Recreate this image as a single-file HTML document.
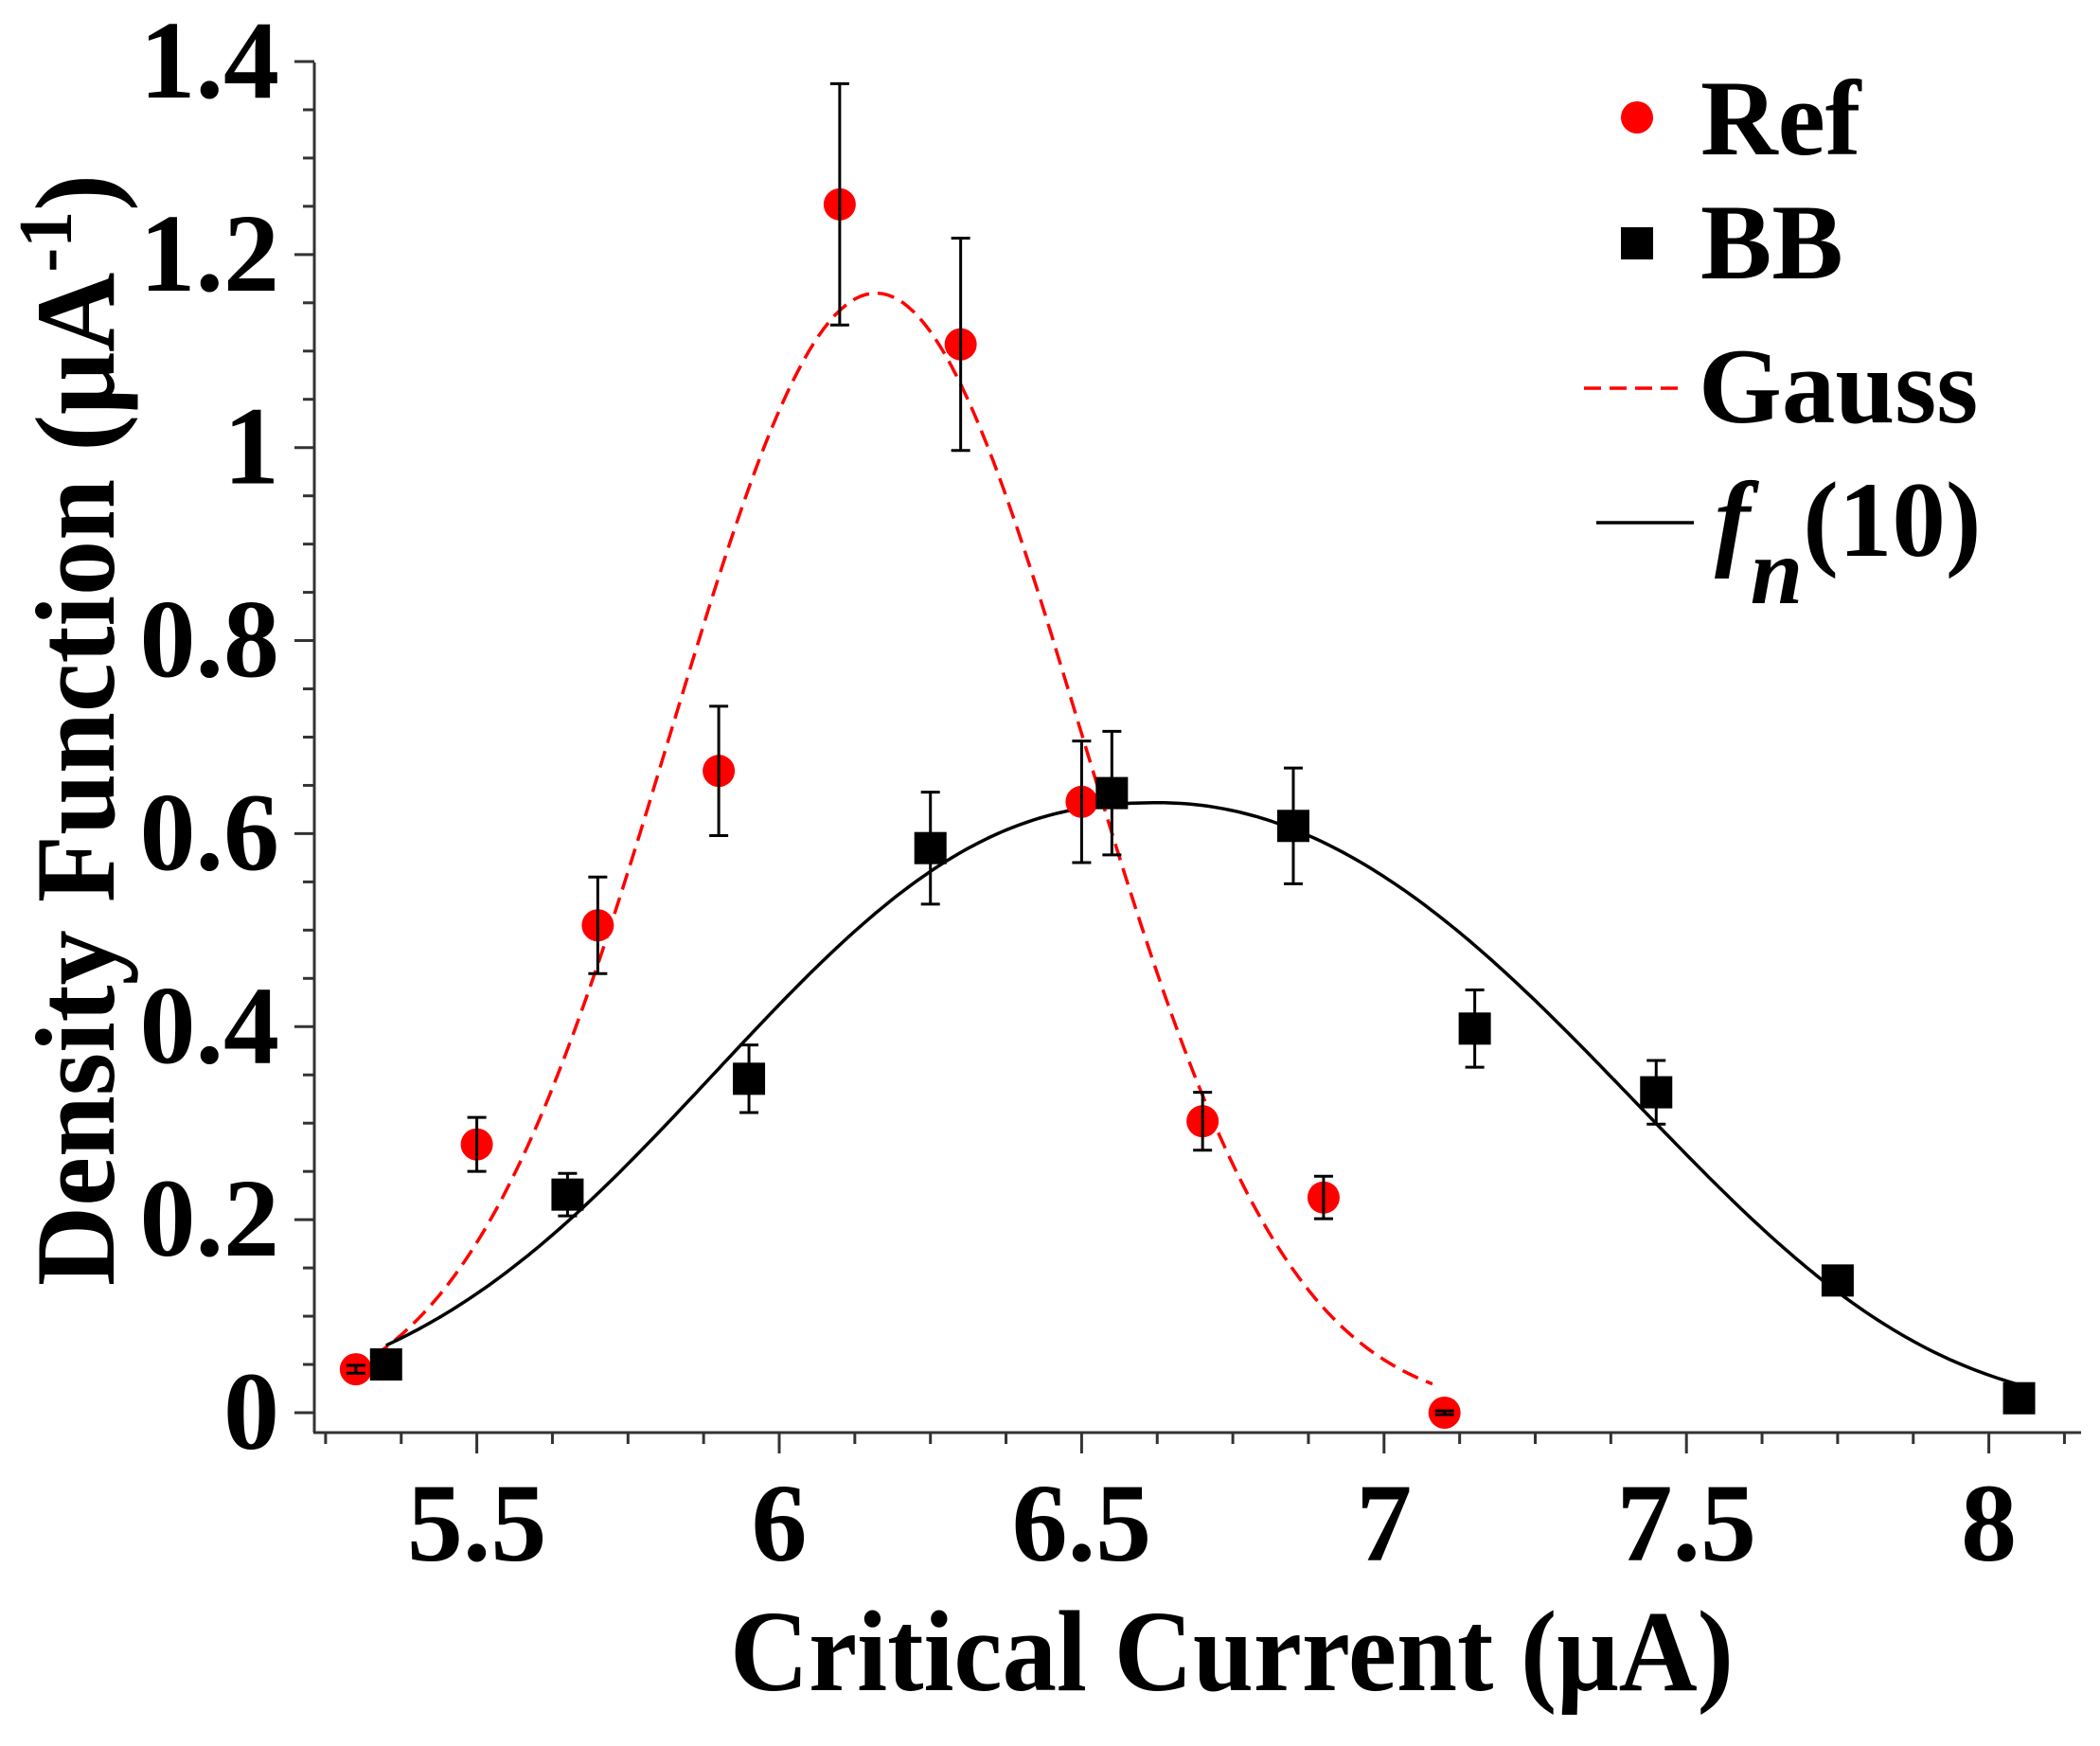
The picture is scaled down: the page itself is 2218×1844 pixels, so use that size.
<!DOCTYPE html>
<html><head><meta charset="utf-8"><style>
html,body{margin:0;padding:0;background:#fff;}
svg{display:block;}
text{font-family:"Liberation Serif",serif;font-weight:bold;fill:#000;}
</style></head><body>
<svg id="s" width="2218" height="1844" viewBox="0 0 2218 1844" xmlns="http://www.w3.org/2000/svg">
<g id="axes" stroke="#333" stroke-width="3" fill="none"></g>
<g id="curves"></g>
<g id="pts"></g>
<g id="labels"></g>
<text x="1301" y="1785" font-size="122" text-anchor="middle" textLength="1060" lengthAdjust="spacingAndGlyphs">Critical Current (μA)</text>
<text transform="translate(120,1358) rotate(-90)" font-size="120" textLength="1174" lengthAdjust="spacingAndGlyphs">Density Function (μA<tspan dy="-45" font-size="80">-1</tspan><tspan dy="45">)</tspan></text>
<circle cx="1729" cy="124" r="17" fill="#f00"/>
<text x="1796" y="163" font-size="113">Ref</text>
<rect x="1712" y="240" width="34" height="34" fill="#000"/>
<text x="1796" y="294" font-size="113">BB</text>
<line x1="1673" y1="410" x2="1775" y2="410" stroke="#f00" stroke-width="3.5" stroke-dasharray="18 9"/>
<text x="1794" y="446" font-size="113">Gauss</text>
<line x1="1686" y1="552" x2="1789" y2="552" stroke="#000" stroke-width="3.5"/>
<text x="1811" y="587" font-size="113"><tspan font-style="italic">f</tspan><tspan dy="50" font-style="italic" font-size="100">n</tspan><tspan dy="-50">(10)</tspan></text>
</svg>
<script>
var NS="http://www.w3.org/2000/svg";
function X(v){return 503.6+(v-5.5)*638.8;}
function Y(v){return 1492-v*1019.3;}
function el(p,t,a,txt){var e=document.createElementNS(NS,t);for(var k in a)e.setAttribute(k,a[k]);if(txt!==undefined)e.textContent=txt;document.getElementById(p).appendChild(e);return e;}
el("axes","line",{x1:332,y1:66,x2:332,y2:1513});
el("axes","line",{x1:331,y1:1513,x2:2198,y2:1513});
for(var i=0;i<=28;i++){var v=i*0.05,y=Y(v),maj=(i%4==0);
 el("axes","line",{x1:maj?311:320,y1:y,x2:332,y2:y});
 if(maj){var s=(i==0)?"0":(i==20?"1":(v.toFixed(1)));el("labels","text",{x:295,y:y+38,"font-size":118,"text-anchor":"end"},s);}
}
for(var i=0;i<=23;i++){var v=5.25+i*0.125,x=X(v),maj=((i-2)%4==0);
 el("axes","line",{x1:x,y1:1513,x2:x,y2:maj?1535:1525});
 if(maj){var s=(Math.abs(v-Math.round(v))<1e-6)?String(Math.round(v)):v.toFixed(1);el("labels","text",{x:x,y:1648,"font-size":118,"text-anchor":"middle"},s);}
}
var d="";for(var i=0;i<=200;i++){var v=5.33+(7.08-5.33)*i/200;var g=1.16*Math.exp(-Math.pow(v-6.16,2)/(2*0.34*0.34));d+=(i?"L":"M")+X(v).toFixed(1)+" "+Y(g).toFixed(1);}
el("curves","path",{d:d,fill:"none",stroke:"#f00","stroke-width":3.5,"stroke-dasharray":"18 9"});
var d2="";
for(var i=0;i<=300;i++){var v=5.35+(8.05-5.35)*i/300;var dd=v-6.63,f;
 if(dd<0) f=0.632*Math.exp(-Math.pow(-dd/0.921,2.4));
 else f=0.632*Math.exp(-(0.901*dd*dd+0.311*dd*dd*dd*dd));
 d2+=(i?"L":"M")+X(v).toFixed(1)+" "+Y(f).toFixed(1);}
el("curves","path",{d:d2,fill:"none",stroke:"#000","stroke-width":3.5});
var ref=[[5.3,0.045,0.004],[5.5,0.278,0.028],[5.7,0.505,0.05],[5.9,0.665,0.067],[6.1,1.252,0.125],[6.3,1.107,0.11],[6.5,0.633,0.063],[6.7,0.302,0.03],[6.9,0.223,0.022],[7.1,0.0,0.002]];
var bb=[[5.35,0.05,0.005],[5.65,0.226,0.022],[5.95,0.346,0.035],[6.25,0.585,0.058],[6.55,0.642,0.064],[6.85,0.608,0.06],[7.15,0.398,0.04],[7.45,0.332,0.033],[7.75,0.137,0.013],[8.05,0.015,0.002]];
function eb(x,v,e){var y1=Y(v+e),y2=Y(v-e);el("pts","line",{x1:x,y1:y1,x2:x,y2:y2,stroke:"#000","stroke-width":3});
 el("pts","line",{x1:x-10,y1:y1,x2:x+10,y2:y1,stroke:"#000","stroke-width":3});el("pts","line",{x1:x-10,y1:y2,x2:x+10,y2:y2,stroke:"#000","stroke-width":3});}
ref.forEach(function(p){var x=X(p[0]);el("pts","circle",{cx:x,cy:Y(p[1]),r:17,fill:"#f00"});eb(x,p[1],p[2]);});
bb.forEach(function(p){var x=X(p[0]);el("pts","rect",{x:x-17,y:Y(p[1])-17,width:34,height:34,fill:"#000"});eb(x,p[1],p[2]);});
</script>
</body></html>
